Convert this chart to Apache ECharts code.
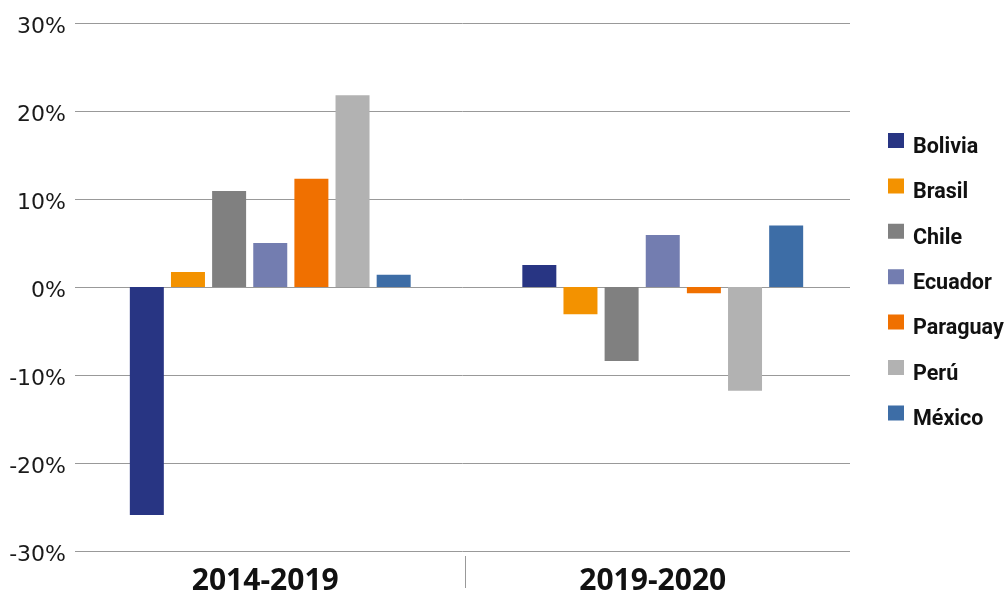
<!DOCTYPE html>
<html>
<head>
<meta charset="utf-8">
<script src="https://cdn.jsdelivr.net/npm/echarts@6/dist/echarts.min.js"></script>
<style>html,body{margin:0;padding:0;background:#fff}#c{width:1004px;height:590px}</style>
</head>
<body>
<div id="c"></div>
<script>
const categories = ['2014-2019', '2019-2020'];
const countries = ['Bolivia', 'Brasil', 'Chile', 'Ecuador', 'Paraguay', 'Perú', 'México'];
const colors = ['#283583', '#F39200', '#808080', '#737DB0', '#F07000', '#B2B2B2', '#3D6DA6'];
const bolivia  = [-25.9, 2.5];
const brasil   = [1.7, -3.1];
const chile    = [10.9, -8.4];
const ecuador  = [5.0, 5.9];
const paraguay = [12.3, -0.7];
const peru     = [21.8, -11.8];
const mexico   = [1.4, 7.0];
const seriesValues = [bolivia, brasil, chile, ecuador, paraguay, peru, mexico];
const yTicks = { min: -30, max: 30, interval: 10 };

const chart = echarts.init(document.getElementById('c'));
chart.setOption({
  animation: false,
  backgroundColor: '#fff',
  grid: [
    { left: 75, right: 154, top: 23, bottom: 39, outerBoundsMode: 'none', containLabel: false },
    { left: 74, right: 145, top: 23, bottom: 39, outerBoundsMode: 'none', containLabel: false }
  ],
  legend: {
    orient: 'vertical',
    left: 883,
    top: 128,
    itemWidth: 20,
    itemHeight: 29,
    itemGap: 16.4,
    icon: 'path://M0,0L16,0L16,15L0,15Z M20,29L20,29Z',
    textStyle: {
      fontFamily: "Roboto, sans-serif",
      fontWeight: 'bold',
      fontSize: 21.5,
      lineHeight: 22,
      color: '#111'
    },
    data: countries
  },
  xAxis: [
    {
      type: 'category',
      gridIndex: 0,
      data: categories,
      axisLine: { show: false },
      axisTick: { show: false },
      axisLabel: {
        margin: 15,
        fontFamily: "'Open Sans', sans-serif",
        fontWeight: 'bold',
        fontSize: 30,
        color: '#111',
        padding: [0, 7, 0, 0]
      }
    },
    {
      type: 'value',
      gridIndex: 0,
      position: 'bottom',
      offset: 5,
      min: 0, max: 2,
      axisLine: { show: false },
      axisLabel: { show: false },
      splitLine: { show: false },
      axisTick: { show: true, customValues: [1.006], length: 32, lineStyle: { color: '#999', width: 1 } }
    },
    {
      type: 'category',
      gridIndex: 1,
      data: categories,
      show: false
    }
  ],
  yAxis: [
    {
      type: 'value',
      gridIndex: 0,
      min: yTicks.min,
      max: yTicks.max,
      interval: yTicks.interval,
      axisLine: { show: false },
      axisTick: { show: false },
      axisLabel: {
        formatter: '{value}%',
        margin: 9,
        fontFamily: "'DejaVu Sans', sans-serif",
        fontSize: 22,
        color: '#1a1a1a',
        verticalAlign: 'top',
        lineHeight: 8
      },
      splitLine: { lineStyle: { color: '#999', width: 1 } }
    },
    {
      type: 'value',
      gridIndex: 1,
      min: yTicks.min,
      max: yTicks.max,
      interval: yTicks.interval,
      show: false,
      splitLine: { show: false }
    }
  ],
  series: countries.map((name, i) => ({
    name: name,
    type: 'bar',
    xAxisIndex: 2,
    yAxisIndex: 1,
    data: seriesValues[i],
    barWidth: 34,
    barGap: '21%',
    itemStyle: { color: colors[i] }
  }))
});
</script>
</body>
</html>
